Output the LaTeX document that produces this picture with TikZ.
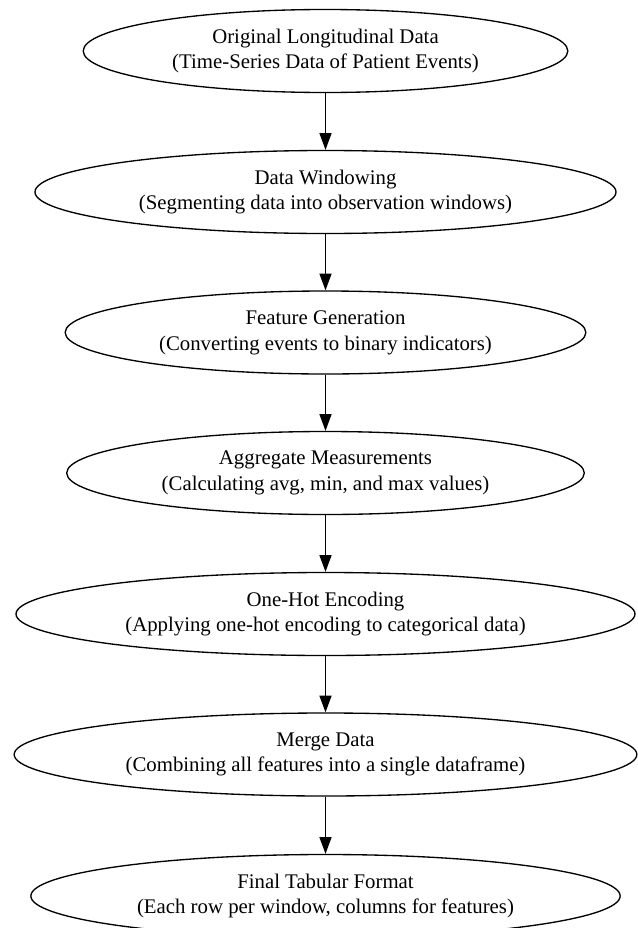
\documentclass[tikz,border=0pt]{standalone}
\usepackage{fontspec}
\setmainfont{Liberation Serif}
\usetikzlibrary{shapes.geometric,arrows.meta}
\begin{document}
\begin{tikzpicture}[x=0.75pt,y=-0.75pt,
  stage/.style={ellipse,draw=black,line width=1pt,inner sep=0pt,
    minimum height=83*0.75pt,align=center,
    font=\fontsize{15.6pt}{19.3pt}\selectfont},
  flow/.style={draw=black,line width=1pt,-{Triangle[length=12.5pt,width=9pt]}}]
\useasboundingbox (0,0) rectangle (637,928);
\node[stage,minimum width=484.6*0.75pt] (n1) at (325.5,51)
  {Original Longitudinal Data\\(Time-Series Data of Patient Events)};
\node[stage,minimum width=581*0.75pt] (n2) at (325.5,192)
  {Data Windowing\\(Segmenting data into observation windows)};
\node[stage,minimum width=520.7*0.75pt] (n3) at (325.5,332.5)
  {Feature Generation\\(Converting events to binary indicators)};
\node[stage,minimum width=517.6*0.75pt] (n4) at (325.5,473)
  {Aggregate Measurements\\(Calculating avg, min, and max values)};
\node[stage,minimum width=619*0.75pt] (n5) at (325.5,614)
  {One-Hot Encoding\\(Applying one-hot encoding to categorical data)};
\node[stage,minimum width=622.7*0.75pt] (n6) at (325.5,754.5)
  {Merge Data\\(Combining all features into a single dataframe)};
\node[stage,minimum width=589.3*0.75pt] (n7) at (325.5,896)
  {Final Tabular Format\\(Each row per window, columns for features)};
\draw[flow] (n1) -- (n2);
\draw[flow] (n2) -- (n3);
\draw[flow] (n3) -- (n4);
\draw[flow] (n4) -- (n5);
\draw[flow] (n5) -- (n6);
\draw[flow] (n6) -- (n7);
\end{tikzpicture}
\end{document}
